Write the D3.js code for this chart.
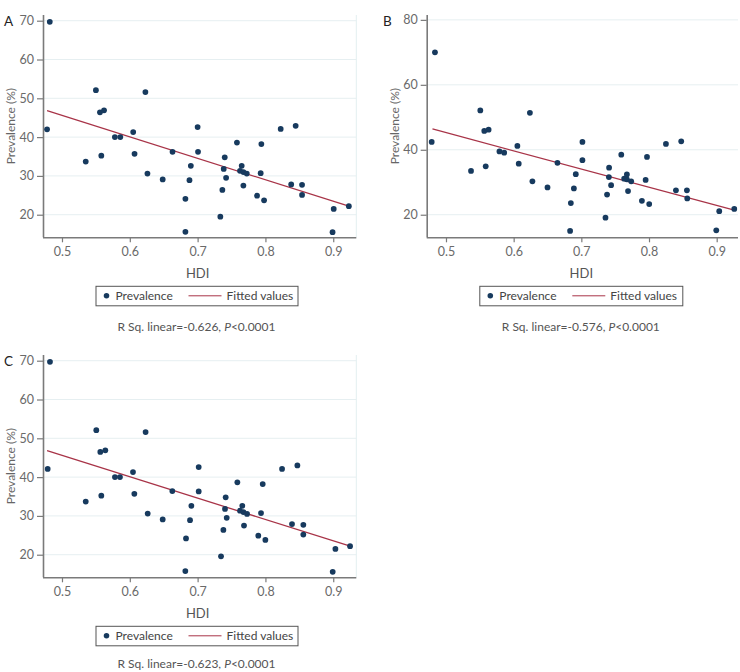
<!DOCTYPE html>
<html><head><meta charset="utf-8">
<script src="https://cdn.jsdelivr.net/npm/d3@7"></script>
<style>
html,body{margin:0;padding:0;background:#fff;}
svg{display:block;font-family:Lato,"Open Sans",sans-serif;}
</style></head>
<body><svg id="chart" width="740" height="672"></svg>
<script>
// ---------- data ----------
const xTicks = [0.5, 0.6, 0.7, 0.8, 0.9];
const yTicksAC = [20, 30, 40, 50, 60, 70];
const yTicksB = [20, 40, 60, 80];
const panelLabels = ["A", "B", "C"];
const statTexts = ["R Sq. linear=-0.626, ", "R Sq. linear=-0.576, ", "R Sq. linear=-0.623, "];
const legendLabels = ["Prevalence", "Fitted values"];

const hdiA = [0.482,0.550,0.623,0.556,0.562,0.478,0.535,0.558,0.578,0.586,0.605,0.607,0.626,0.6485,0.663,0.682,0.682,0.688,0.690,0.700,0.7006,0.7335,0.7365,0.7385,0.740,0.742,0.758,0.7625,0.7675,0.7725,0.765,0.7675,0.7876,0.794,0.793,0.798,0.8225,0.8446,0.838,0.854,0.854,0.899,0.9007,0.923];
const prevA = [69.7,52.1,51.6,46.4,46.9,42.0,33.7,35.2,40.0,40.0,41.3,35.7,30.6,29.1,36.2,15.6,24.1,28.9,32.6,42.6,36.2,19.5,26.4,31.8,34.8,29.5,38.6,31.3,31.0,30.6,32.6,27.5,24.9,38.2,30.7,23.7,42.1,42.9,27.8,27.7,25.1,15.5,21.5,22.2];
const fitXA = [0.478, 0.923];
const fitYA = [46.8, 22.2];

const hdiB = [0.4837,0.4789,0.5507,0.624,0.5566,0.563,0.537,0.5587,0.579,0.586,0.6055,0.6075,0.6277,0.650,0.6647,0.6834,0.6845,0.689,0.6918,0.7016,0.7016,0.7357,0.738,0.7407,0.741,0.744,0.759,0.7633,0.7673,0.7737,0.7673,0.769,0.7895,0.797,0.795,0.8003,0.825,0.8476,0.8398,0.856,0.8565,0.8994,0.9038,0.926];
const prevB = [70.0,42.4,52.1,51.4,45.8,46.2,33.5,34.9,39.5,39.1,41.2,35.7,30.3,28.4,36.0,15.0,23.6,28.1,32.5,42.4,36.8,19.1,26.2,31.6,34.5,29.1,38.5,31.1,30.9,30.3,32.4,27.3,24.3,37.8,30.7,23.3,41.8,42.6,27.5,27.5,25.0,15.2,21.1,21.8];
const fitXB = [0.480, 0.926];
const fitYB = [46.4, 21.4];

const hdiC = [0.4823,0.5506,0.6233,0.5565,0.5639,0.4789,0.535,0.558,0.5781,0.5855,0.6047,0.6067,0.6264,0.6485,0.6627,0.6819,0.6829,0.6888,0.6908,0.7016,0.7016,0.7345,0.738,0.7404,0.7414,0.7429,0.7586,0.7625,0.7675,0.7729,0.7659,0.7684,0.7895,0.796,0.7935,0.7999,0.8245,0.8471,0.8392,0.8559,0.8559,0.8992,0.9032,0.9248];
const prevC = [69.7,52.1,51.6,46.5,46.9,42.1,33.7,35.2,40.0,40.0,41.3,35.7,30.6,29.1,36.4,15.8,24.2,28.9,32.6,42.6,36.3,19.6,26.4,31.8,34.8,29.5,38.65,31.35,31.0,30.5,32.6,27.5,24.9,38.2,30.75,23.8,42.1,43.0,27.9,27.7,25.2,15.6,21.5,22.2];
const fitXC = [0.478, 0.925];
const fitYC = [46.8, 22.2];

// ---------- drawing ----------
const svg = d3.select("#chart");
const C_AXIS = "#7a7a7a", C_TICKTXT = "#6a6a6a", C_GRID = "#e6eff1", C_PT = "#173a5e", C_FIT = "#a83448";

function panel(o) {
  const g = svg.append("g");
  const x = d3.scaleLinear().domain(o.xDom).range([o.left, o.right]);
  const y = d3.scaleLinear().domain(o.yDom).range([o.bottom, o.top]);

  // gridlines
  g.append("g").selectAll("line").data(o.yTicks).join("line")
    .attr("x1", o.left + 1).attr("x2", o.right)
    .attr("y1", d => y(d)).attr("y2", d => y(d))
    .attr("stroke", C_GRID).attr("stroke-width", 1);
  if (o.rightBorder) {
    g.append("line").attr("x1", o.right).attr("x2", o.right)
      .attr("y1", o.top).attr("y2", o.bottom).attr("stroke", "#e3eff1");
  }

  // axes
  const ya = g.append("g").attr("transform", `translate(${o.left},0)`)
    .call(d3.axisLeft(y).tickValues(o.yTicks).tickSize(6).tickPadding(3).tickFormat(d3.format("d")));
  const xa = g.append("g").attr("transform", `translate(0,${o.bottom})`)
    .call(d3.axisBottom(x).tickValues(xTicks).tickSize(5).tickPadding(5).tickFormat(d3.format(".1f")));
  [ya, xa].forEach(a => {
    a.select(".domain").attr("stroke", C_AXIS).attr("stroke-width", 1.6);
    a.selectAll(".tick line").attr("stroke", C_AXIS).attr("stroke-width", 1.2);
    a.selectAll(".tick text").attr("fill", C_TICKTXT).attr("font-size", 12.5)
      .attr("font-family", "Lato, sans-serif");
  });
  ya.select(".domain").attr("d", `M0.5,${o.top}V${o.bottom}`);
  xa.select(".domain").attr("d", `M${o.left},0.5H${o.right}`);

  // fitted line
  const fit = o.fitX.map((v, i) => [v, o.fitY[i]]);
  g.append("path").datum(fit)
    .attr("d", d3.line().x(d => x(d[0])).y(d => y(d[1])))
    .attr("fill", "none").attr("stroke", C_FIT).attr("stroke-width", 1.3);

  // points
  const pts = o.hdi.map((v, i) => [v, o.prev[i]]);
  g.append("g").selectAll("path").data(pts).join("path")
    .attr("transform", d => `translate(${x(d[0])},${y(d[1])})`)
    .attr("d", d3.symbol(d3.symbolCircle, 26))
    .attr("fill", C_PT);

  // panel letter
  g.append("text").attr("x", o.letterX).attr("y", o.top + 11)
    .attr("font-size", 13.5).attr("fill", "#222").text(o.letter);

  // y label
  g.append("text")
    .attr("transform", `translate(${o.left - 28},${(o.top + o.bottom) / 2}) rotate(-90)`)
    .attr("text-anchor", "middle").attr("font-size", 12).attr("fill", "#666")
    .text("Prevalence (%)");

  const cx = (o.legX0 + o.legX1) / 2;
  // x label
  g.append("text").attr("x", x(0.7)).attr("y", o.bottom + 41)
    .attr("text-anchor", "middle").attr("font-size", 13).attr("fill", "#555").text("HDI");

  // legend
  const ly = o.bottom + 48.5;
  g.append("rect").attr("x", o.legX0 + 0.5).attr("y", ly + 0.5)
    .attr("width", o.legX1 - o.legX0).attr("height", 19.5)
    .attr("fill", "none").attr("stroke", "#555").attr("stroke-width", 1);
  g.append("path").attr("transform", `translate(${o.legX0 + 11},${ly + 10})`)
    .attr("d", d3.symbol(d3.symbolCircle, 24)).attr("fill", C_PT);
  g.append("text").attr("x", o.legX0 + 20).attr("y", ly + 14.5)
    .attr("font-size", 12).attr("fill", "#444").text(legendLabels[0]);
  g.append("line").attr("x1", o.legX0 + 93).attr("x2", o.legX0 + 126)
    .attr("y1", ly + 10).attr("y2", ly + 10).attr("stroke", C_FIT).attr("stroke-width", 1);
  g.append("text").attr("x", o.legX0 + 131).attr("y", ly + 14.5)
    .attr("font-size", 12).attr("fill", "#444").text(legendLabels[1]);

  // stat text
  const st = g.append("text").attr("x", cx).attr("y", Math.min(o.bottom + 93.5, 668))
    .attr("text-anchor", "middle").attr("font-size", 12).attr("fill", "#555");
  st.append("tspan").text(o.stat);
  st.append("tspan").attr("font-style", "italic").text("P");
  st.append("tspan").text("<0.0001");
}

panel({letter: panelLabels[0], letterX: 4, left: 43, right: 356.3, top: 15, bottom: 237.3,
  xDom: [0.472, 0.934], yDom: [14.18, 71.47], yTicks: yTicksAC,
  hdi: hdiA, prev: prevA, fitX: fitXA, fitY: fitYA, stat: statTexts[0],
  legX0: 95.5, legX1: 297.5, rightBorder: true});
panel({letter: panelLabels[1], letterX: 383, left: 426.7, right: 738, top: 15, bottom: 237.3,
  xDom: [0.4715, 0.9315], yDom: [13.05, 81.5], yTicks: yTicksB,
  hdi: hdiB, prev: prevB, fitX: fitXB, fitY: fitYB, stat: statTexts[1],
  legX0: 479.3, legX1: 682.3, rightBorder: false});
panel({letter: panelLabels[2], letterX: 4, left: 43, right: 356.3, top: 355, bottom: 577.3,
  xDom: [0.472, 0.934], yDom: [14.18, 71.47], yTicks: yTicksAC,
  hdi: hdiC, prev: prevC, fitX: fitXC, fitY: fitYC, stat: statTexts[2],
  legX0: 95.5, legX1: 297.5, rightBorder: true});
</script></body></html>
